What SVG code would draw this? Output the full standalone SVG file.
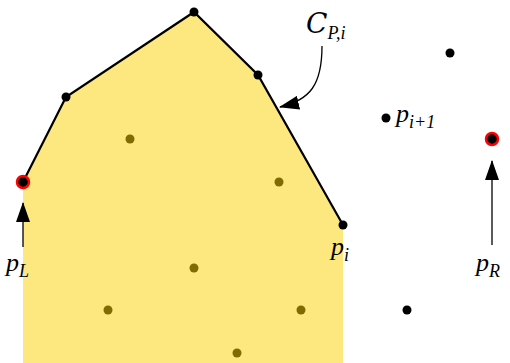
<svg xmlns="http://www.w3.org/2000/svg" width="510" height="363" viewBox="0 0 510 363">
<defs>
<style>
.pt{fill:#000}
.in{fill:#7f6b00}
.red{fill:#000;stroke:#f00;stroke-width:2.5}
.lbl{font-family:"Liberation Serif",serif;font-style:italic;font-size:26px;fill:#000}
.sub{font-family:"Liberation Serif",serif;font-style:italic;font-size:18px;fill:#000}
.ar{stroke:#000;stroke-width:1.3;fill:none}
</style>
<marker id="ah" viewBox="0 0 10 10" refX="9" refY="5" markerWidth="10" markerHeight="10" markerUnits="userSpaceOnUse" orient="auto">
<path d="M0,0 L10,5 L0,10 Z" fill="#000"/>
</marker>
<marker id="ahb" viewBox="0 0 20 14" refX="19" refY="7" markerWidth="20" markerHeight="14" markerUnits="userSpaceOnUse" orient="auto">
<path d="M0,0 L20,7 L0,14 Z" fill="#000"/>
</marker>
</defs>
<g id="region">
<polygon points="23,182 66,97 194,12 258,75 343,225 343,363 23,363" fill="#fde77f"/>
<polyline points="23,182 66,97 194,12 258,75 343,225" fill="none" stroke="#000" stroke-width="2.2"/>
</g>
<g id="inner">
<circle class="in" cx="130" cy="139" r="4.5"/>
<circle class="in" cx="279" cy="182" r="4.5"/>
<circle class="in" cx="194" cy="268" r="4.5"/>
<circle class="in" cx="108" cy="310" r="4.5"/>
<circle class="in" cx="301" cy="310" r="4.5"/>
<circle class="in" cx="237" cy="353" r="4.5"/>
</g>
<g id="hull">
<circle class="pt" cx="66" cy="97" r="4.5"/>
<circle class="pt" cx="194" cy="12" r="4.5"/>
<circle class="pt" cx="258" cy="75" r="4.5"/>
<circle class="pt" cx="343" cy="225" r="4.5"/>
</g>
<g id="outer">
<circle class="pt" cx="450" cy="53" r="4.5"/>
<circle class="pt" cx="386" cy="118" r="4.5"/>
<circle class="pt" cx="407" cy="310" r="4.5"/>
</g>
<g id="pL"><circle class="red" cx="23" cy="182" r="6"/></g>
<g id="pR"><circle class="red" cx="492" cy="139" r="6"/></g>
<g id="connectors">
<line class="ar" x1="23" y1="247" x2="23" y2="203" marker-end="url(#ahb)"/>
<line class="ar" x1="492" y1="245" x2="492" y2="161" marker-end="url(#ahb)" stroke="#555"/>
<path class="ar" d="M322,46 C322,85 310,100 280,107" marker-end="url(#ahb)"/>
</g>
<g id="labels">
<text class="lbl" x="6" y="271">p<tspan class="sub" dy="6">L</tspan></text>
<text class="lbl" x="476" y="271">p<tspan class="sub" dy="6">R</tspan></text>
<text class="lbl" x="331" y="255">p<tspan class="sub" dy="6">i</tspan></text>
<text class="lbl" x="396" y="122">p<tspan class="sub" dy="6">i+1</tspan></text>
<text x="306" y="33" style="font-family:'DejaVu Serif',serif;font-style:italic;font-size:28px">C<tspan class="sub" dy="6">P,i</tspan></text>
</g>
</svg>
